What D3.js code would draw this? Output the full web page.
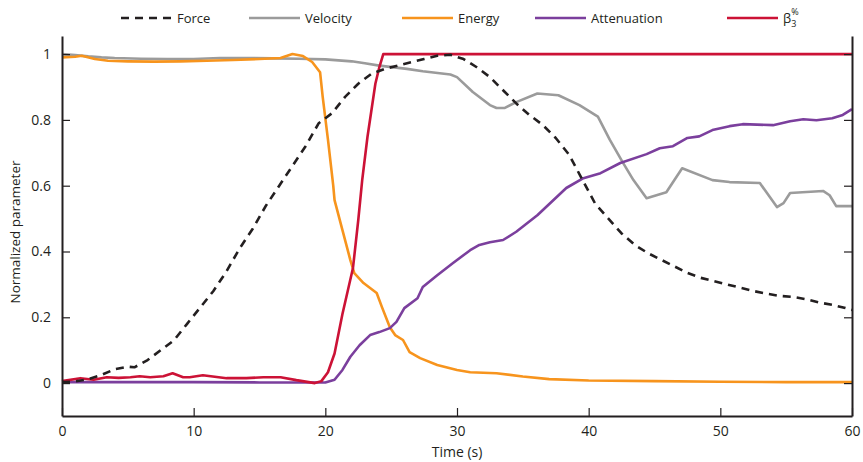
<!DOCTYPE html>
<html>
<head>
<meta charset="utf-8">
<script src="https://cdn.jsdelivr.net/npm/d3@7"></script>
<style>
  body { margin: 0; background: #fff; }
  text { font-family: "Open Sans", sans-serif; fill: #231f20; }
</style>
</head>
<body>
<svg width="863" height="462"></svg>
<script>
// data: [time (s), normalized value]
const force = [[0,0.003],[1,0.005],[2,0.012],[3,0.025],[4,0.042],[5,0.05],[5.5,0.048],[6.5,0.07],[7.5,0.1],[8.5,0.13],
  [9.5,0.18],[10.5,0.23],[11.5,0.28],[12.5,0.34],[13.5,0.41],[14.5,0.47],[15.5,0.54],[16.5,0.6],[17.5,0.66],[18.5,0.72],
  [19.5,0.79],[20.5,0.82],[21.5,0.87],[22.5,0.91],[23.5,0.94],[24.5,0.955],[25.5,0.965],[26.5,0.975],[27.5,0.985],
  [28.5,0.995],[29.5,0.998],[30.5,0.985],[31.5,0.96],[32.5,0.93],[33.5,0.89],[34.5,0.85],[35.5,0.815],[36.5,0.785],
  [37.5,0.745],[38.5,0.695],[39.5,0.62],[40.5,0.545],[41.5,0.5],[42.5,0.455],[43.5,0.42],[44.5,0.395],[45.5,0.375],
  [46.5,0.355],[47.5,0.335],[48.5,0.32],[49.5,0.31],[50.5,0.3],[51.5,0.29],[52.5,0.28],[53.5,0.272],[54.5,0.265],
  [55.5,0.262],[56.5,0.255],[57.5,0.245],[58.5,0.238],[59.5,0.228],[60,0.222]];

const velocity = [[0,1.0],[1,0.997],[2,0.993],[3,0.99],[4,0.988],[6,0.986],[8,0.985],[10,0.985],[12,0.988],[14,0.988],
  [16,0.987],[18,0.986],[20,0.984],[22,0.978],[23,0.972],[24.1,0.965],[26.2,0.955],[27.4,0.948],[29.5,0.938],[30,0.93],
  [31.2,0.885],[32.5,0.845],[33,0.836],[33.6,0.836],[34.5,0.854],[36.1,0.88],[37.7,0.875],[39.3,0.845],[40.7,0.81],
  [41.6,0.74],[42.6,0.67],[43.4,0.617],[44.4,0.562],[45.9,0.58],[47.1,0.653],[49.4,0.617],[50.7,0.611],[53,0.608],
  [54.3,0.535],[54.8,0.547],[55.3,0.578],[57.8,0.584],[58.3,0.571],[58.8,0.538],[60,0.538]];

const energy = [[0,0.99],[1,0.992],[1.5,0.995],[2.5,0.985],[3.5,0.98],[5,0.978],[7,0.977],[9,0.978],[11,0.98],[13,0.982],
  [15,0.985],[16.6,0.988],[17.5,1.0],[18.3,0.994],[19,0.976],[19.6,0.945],[19.8,0.87],[20.2,0.74],[20.6,0.6],[20.7,0.556],
  [21.3,0.465],[21.9,0.374],[22.2,0.334],[22.9,0.304],[23.9,0.274],[24.3,0.231],[24.9,0.17],[25.3,0.146],[25.9,0.131],
  [26.4,0.094],[27.2,0.076],[28.5,0.055],[30,0.04],[31,0.033],[33,0.03],[35,0.02],[37,0.012],[40,0.008],[45,0.006],
  [50,0.004],[55,0.003],[60,0.003]];

const attenuation = [[0,0.003],[5,0.003],[10,0.003],[15,0.002],[20,0.002],[20.7,0.01],[21.3,0.04],[21.9,0.08],
  [22.6,0.115],[23.4,0.146],[24.1,0.155],[24.9,0.167],[25.4,0.186],[26,0.228],[27,0.258],[27.4,0.292],[28.5,0.328],
  [29.7,0.365],[31,0.404],[31.7,0.42],[32.5,0.428],[33.5,0.435],[34.5,0.46],[36.1,0.51],[38.3,0.593],[39.6,0.623],
  [40.9,0.638],[42.4,0.669],[44.4,0.696],[45.4,0.714],[46.4,0.72],[47.5,0.745],[48.4,0.75],[49.4,0.769],[50.7,0.781],
  [51.7,0.787],[54,0.784],[55.3,0.796],[56.3,0.802],[57.3,0.799],[58.5,0.805],[59.3,0.815],[60,0.833]];

const beta = [[0,0.006],[1.4,0.015],[2.4,0.01],[3.4,0.018],[4.3,0.016],[5.2,0.018],[5.9,0.021],[6.7,0.018],[7.7,0.021],
  [8.4,0.03],[9.2,0.018],[9.7,0.018],[10.7,0.024],[12.5,0.015],[14,0.015],[15.3,0.018],[16.6,0.018],[17.8,0.009],
  [19.2,0.0],[19.7,0.006],[20.2,0.033],[20.7,0.09],[21.3,0.21],[21.7,0.28],[22.1,0.35],[22.5,0.495],[22.8,0.617],
  [23.2,0.748],[23.8,0.91],[24.1,0.96],[24.4,1.0],[30,1.0],[40,1.0],[50,1.0],[60,1.0]];

const xTicks = [0, 10, 20, 30, 40, 50, 60];
const yTicks = [0, 0.2, 0.4, 0.6, 0.8, 1];
const seriesNames = ['Force', 'Velocity', 'Energy', 'Attenuation', 'β3%'];

const series = [
  {name: 'Force', data: force, color: '#231f20', dash: '8,6'},
  {name: 'Velocity', data: velocity, color: '#9b9b9b', dash: null},
  {name: 'Energy', data: energy, color: '#f7941d', dash: null},
  {name: 'Attenuation', data: attenuation, color: '#7b3f9d', dash: null},
  {name: 'beta', data: beta, color: '#cc1236', dash: null}
];

const svg = d3.select('svg');
const plotL = 62, plotR = 852, plotT = 36, plotB = 416;

const x = d3.scaleLinear().domain([0, 60]).range([plotL, plotR]);
const y = d3.scaleLinear().domain([-0.1, 1.055]).range([plotB, plotT]);

const line = d3.line().x(d => x(d[0])).y(d => y(d[1]));

// plot lines (force drawn on top)
const order = [1, 2, 3, 4, 0];
order.forEach(i => {
  const s = series[i];
  svg.append('path')
    .attr('d', line(s.data))
    .attr('fill', 'none')
    .attr('stroke', s.color)
    .attr('stroke-width', 2.6)
    .attr('stroke-linejoin', 'round')
    .attr('stroke-dasharray', s.dash);
});

// axes
const fmt = d => d === 0 || d === 1 ? d : d3.format('.1f')(d);
const xAxis = svg.append('g')
  .attr('transform', `translate(0, ${plotB})`)
  .call(d3.axisBottom(x).tickValues(xTicks).tickSizeInner(-8).tickSizeOuter(0).tickPadding(10));
const yAxis = svg.append('g')
  .attr('transform', `translate(${plotL}, 0)`)
  .call(d3.axisLeft(y).tickValues(yTicks).tickFormat(fmt).tickSizeInner(-8).tickSizeOuter(0).tickPadding(11));
const yAxisR = svg.append('g')
  .attr('transform', `translate(${plotR}, 0)`)
  .call(d3.axisRight(y).tickValues(yTicks).tickFormat('').tickSizeInner(-8).tickSizeOuter(0));

[xAxis, yAxis, yAxisR].forEach(g => {
  g.select('.domain').attr('stroke', '#231f20').attr('stroke-width', 2);
  g.selectAll('.tick line').attr('stroke', '#231f20').attr('stroke-width', 1.2);
  g.selectAll('.tick text').style('font-size', '14px').attr('fill', '#231f20')
    .style('font-family', '"Open Sans", sans-serif');
});

svg.append('text')
  .attr('x', (plotL + plotR) / 2)
  .attr('y', 457)
  .attr('text-anchor', 'middle')
  .style('font-size', '14px')
  .text('Time (s)');

svg.append('text')
  .attr('transform', `translate(20, ${(plotT + plotB) / 2 + 6}) rotate(-90)`)
  .attr('text-anchor', 'middle')
  .style('font-size', '13.5px')
  .text('Normalized parameter');

// legend
const legendX = [121, 249, 402, 535, 727];
const legendY = 18;
series.forEach((s, i) => {
  const g = svg.append('g').attr('transform', `translate(${legendX[i]}, ${legendY})`);
  g.append('line')
    .attr('x1', 0).attr('x2', 51)
    .attr('stroke', s.color)
    .attr('stroke-width', 2.6)
    .attr('stroke-dasharray', s.dash);
  const t = g.append('text')
    .attr('x', 56)
    .attr('y', 5)
    .style('font-size', '13px');
  if (s.name === 'beta') {
    t.append('tspan').text('β');
    t.append('tspan').attr('dy', 4).style('font-size', '9px').text('3');
    t.append('tspan').attr('dx', -5).attr('dy', -12).style('font-size', '9px').text('%');
  } else {
    t.text(seriesNames[i]);
  }
});
</script>
</body>
</html>
